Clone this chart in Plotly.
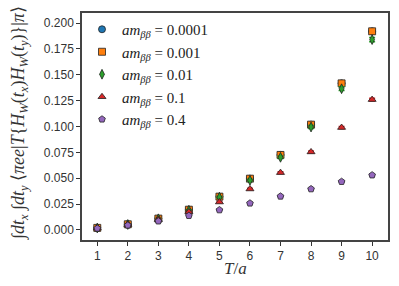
import plotly.graph_objects as go

T = [1, 2, 3, 4, 5, 6, 7, 8, 9, 10]
labels = ["0.0001", "0.001", "0.01", "0.1", "0.4"]
v_0001 = [0.0020, 0.0055, 0.0110, 0.0196, 0.0322, 0.0496, 0.0725, 0.1018, 0.1417, 0.1920]
v_001 = [0.0020, 0.0055, 0.0110, 0.0196, 0.0322, 0.0496, 0.0725, 0.1018, 0.1417, 0.1920]
v_01 = [0.0019, 0.0053, 0.0108, 0.0190, 0.0316, 0.0480, 0.0702, 0.0995, 0.1365, 0.1840]
v_1 = [0.0018, 0.0052, 0.0100, 0.0174, 0.0270, 0.0396, 0.0554, 0.0754, 0.0990, 0.1260]
v_4 = [0.0015, 0.0045, 0.0085, 0.0138, 0.0193, 0.0258, 0.0325, 0.0396, 0.0467, 0.0530]
err_0001 = [0.0002, 0.0003, 0.0004, 0.0006, 0.0008, 0.0010, 0.0012, 0.0015, 0.0018, 0.0022]
err_001 = [0.0002, 0.0003, 0.0004, 0.0006, 0.0008, 0.0010, 0.0012, 0.0015, 0.0018, 0.0022]
err_01 = [0.0002, 0.0003, 0.0004, 0.0006, 0.0008, 0.0010, 0.0012, 0.0015, 0.0018, 0.0020]
err_1 = [0.0002, 0.0003, 0.0004, 0.0005, 0.0006, 0.0008, 0.0009, 0.0010, 0.0011, 0.0013]
err_4 = [0.0002, 0.0002, 0.0003, 0.0003, 0.0004, 0.0004, 0.0005, 0.0005, 0.0006, 0.0006]

series = [v_0001, v_001, v_01, v_1, v_4]
errors = [err_0001, err_001, err_01, err_1, err_4]
colors = ["#1f77b4", "#ff7f0e", "#2ca02c", "#d62728", "#9467bd"]
symbols = ["circle", "square", "diamond-tall", "triangle-up", "pentagon"]
sizes = [7, 7, 7, 7, 7]

fig = go.Figure()
for lab, vals, err, c, s, sz in zip(labels, series, errors, colors, symbols, sizes):
    fig.add_trace(go.Scatter(
        x=T, y=vals, mode="markers",
        name=f"<i>am</i><sub><i>ββ</i></sub> = {lab}",
        marker=dict(symbol=s, size=sz, color=c, line=dict(color="#222222", width=0.8)),
        error_y=dict(type="data", array=err, color=c, thickness=1.5, width=3),
    ))

fig.update_layout(
    width=399, height=286,
    margin=dict(l=82, r=11, t=13, b=46, autoexpand=False),
    paper_bgcolor="white", plot_bgcolor="white",
    showlegend=True,
    legend=dict(x=0.0, y=1.0, xanchor="left", yanchor="top",
                font=dict(family="Liberation Serif", size=15, color="#222222"),
                bgcolor="rgba(0,0,0,0)", tracegroupgap=0,
                itemwidth=30),
    font=dict(family="Liberation Sans", size=12, color="#333333"),
)
fig.update_xaxes(
    range=[0.5, 10.52], tickvals=T, ticktext=[str(t) for t in T],
    ticks="outside", ticklen=4, tickwidth=1.2, tickcolor="#333333",
    showline=True, linecolor="#444444", linewidth=1.5, mirror=True,
    showgrid=False, zeroline=False, automargin=False,
)
fig.update_yaxes(
    range=[-0.0097, 0.2097], tickvals=[0, 0.025, 0.05, 0.075, 0.1, 0.125, 0.15, 0.175, 0.2],
    tickformat=".3f",
    ticks="outside", ticklen=4, tickwidth=1.2, tickcolor="#333333",
    showline=True, linecolor="#444444", linewidth=1.5, mirror=True,
    showgrid=False, zeroline=False, automargin=False,
)
fig.add_annotation(
    xref="paper", yref="paper", x=0.5, y=-0.125, xanchor="center", yanchor="middle",
    showarrow=False, text="<i>T</i>/<i>a</i>",
    font=dict(family="Liberation Serif", size=17, color="#333333"),
)
fig.add_annotation(
    xref="paper", yref="paper", x=-0.206, y=0.515, xanchor="center", yanchor="middle",
    textangle=-90, showarrow=False,
    text="∫<i>dt</i><sub><i>x</i></sub> ∫<i>dt</i><sub><i>y</i></sub> ⟨<i>πee</i>|<i>T</i>{<i>H</i><sub><i>W</i></sub>(<i>t</i><sub><i>x</i></sub>)<i>H</i><sub><i>W</i></sub>(<i>t</i><sub><i>y</i></sub>)}|<i>π</i>⟩",
    font=dict(family="Liberation Serif", size=18, color="#333333"),
)
fig.write_html("out.html", config={"displayModeBar": False},
               post_script="document.body.style.margin='0';")
